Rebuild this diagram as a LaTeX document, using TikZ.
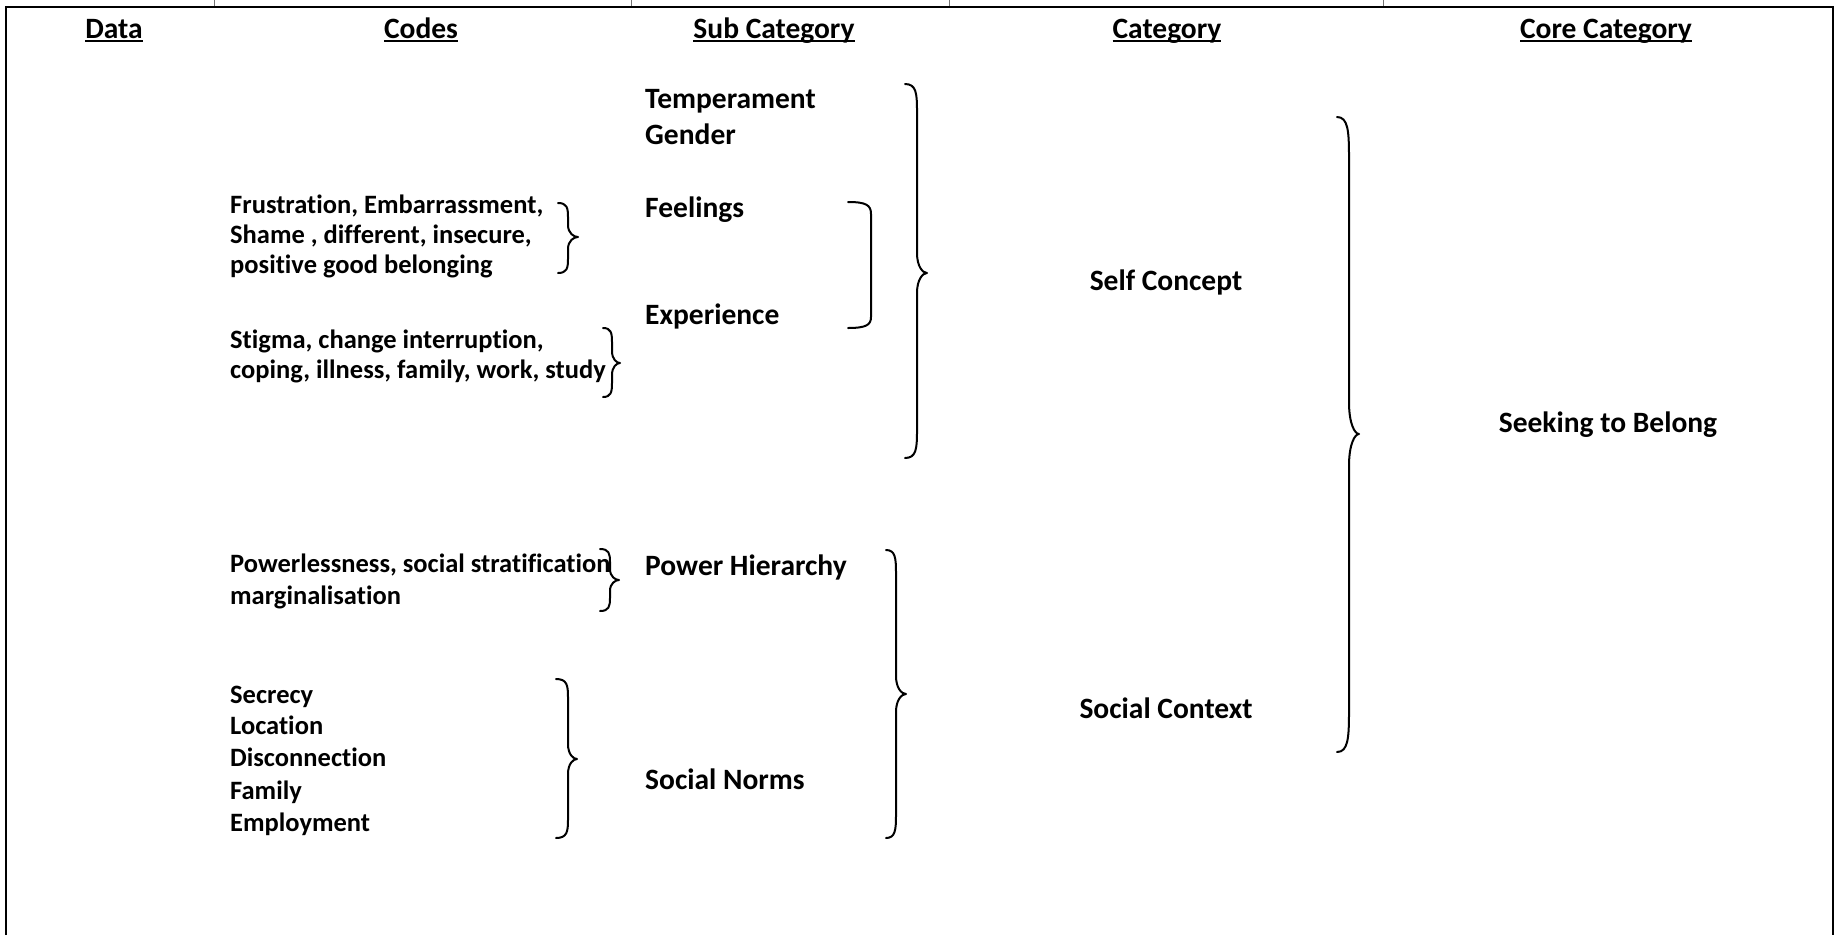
\documentclass[tikz,border=0pt]{standalone}
\usepackage{fontspec}
\setmainfont{Carlito}[Ligatures=NoCommon]
% underlined heading text, rule crossing the descenders like a word processor underline
\newcommand\hdul[1]{\setbox0\hbox{#1}\rlap{\rule[-0.14em]{\wd0}{0.075em}}\box0}
\begin{document}
\begin{tikzpicture}[x=1pt,y=-1pt,
  hdr/.style={font=\bfseries\fontsize{29.5}{35}\selectfont, anchor=base, inner sep=0pt},
  sub/.style={font=\bfseries\fontsize{29.5}{35}\selectfont, anchor=base west, inner sep=0pt},
  cat/.style={font=\bfseries\fontsize{29.5}{35}\selectfont, anchor=base, inner sep=0pt},
  code/.style={font=\bfseries\fontsize{26.5}{32}\selectfont, anchor=base west, inner sep=0pt},
  frame/.style={line width=2pt, black},
  tick/.style={line width=1pt, black!55},
  brc/.style={line width=2pt, black, line cap=round, line join=round}]

\useasboundingbox (0,0) rectangle (1840,935);

% outer frame, open at the bottom
\coordinate (fbl) at (6,935);
\coordinate (ftl) at (6,7);
\coordinate (ftr) at (1833,7);
\coordinate (fbr) at (1833,935);
\draw[frame] (fbl) -- (ftl) -- (ftr) -- (fbr);
% column ticks above the frame
\foreach \x in {214,631,949,1383} \draw[tick] (\x,0) -- (\x,6);

% column headings
\node[hdr] (hData) at (114,38) {\hdul{Data}};
\node[hdr] (hCodes) at (421,38) {\hdul{Codes}};
\node[hdr] (hSub) at (774,38) {\hdul{Sub Category}};
\node[hdr] (hCat) at (1167,38) {\hdul{Category}};
\node[hdr] (hCore) at (1606,38) {\hdul{Core Category}};

% codes
\node[code] (c1a) at (230,213) {Frustration, Embarrassment,};
\node[code] (c1b) at (230,243) {Shame , different, insecure,};
\node[code] (c1c) at (230,273) {positive good belonging};
\node[code] (c2a) at (230,348) {Stigma, change interruption,};
\node[code] (c2b) at (230,378) {coping, illness, family, work, study};
\node[code] (c3a) at (230,572) {Powerlessness, social stratification};
\node[code] (c3b) at (230,604) {marginalisation};
\node[code] (c4a) at (230,703) {Secrecy};
\node[code] (c4b) at (230,734) {Location};
\node[code] (c4c) at (230,766) {Disconnection};
\node[code] (c4d) at (230,799) {Family};
\node[code] (c4e) at (230,831) {Employment};

% sub categories
\node[sub] (sTemp) at (645,108) {Temperament};
\node[sub] (sGend) at (645,144) {Gender};
\node[sub] (sFeel) at (645,217) {Feelings};
\node[sub] (sExp) at (645,324) {Experience};
\node[sub] (sPow) at (645,575) {Power Hierarchy};
\node[sub] (sNorm) at (645,789) {Social Norms};

% categories and core category
\node[cat] (kSelf) at (1166,290) {Self Concept};
\node[cat] (kSoc) at (1166,718) {Social Context};
\node[cat] (kCore) at (1608,432) {Seeking to Belong};

% right curly brace: ends x, spine x, tip x, top y, tip y, bottom y, curl height, tip curl height
\newcommand\rbrc[8]{%
  \draw[brc] (#1,#4) .. controls (#2-1,#4) and (#2,#4+0.35*#7) .. (#2,#4+#7)
    -- (#2,#5-#8) .. controls (#2,#5-0.3*#8) and (#3-0.4*#3+0.4*#2,#5) .. (#3,#5)
    .. controls (#3-0.4*#3+0.4*#2,#5) and (#2,#5+0.3*#8) .. (#2,#5+#8)
    -- (#2,#6-#7) .. controls (#2,#6-0.35*#7) and (#2-1,#6) .. (#1,#6);}

% braces grouping the codes
\rbrc{558}{568}{578}{203}{237}{273}{14}{12}
\rbrc{603}{612}{620}{328}{363}{397}{14}{12}
\rbrc{600}{610}{619}{549}{580}{611}{13}{11}
\rbrc{556}{568}{577}{679}{759}{838}{18}{15}

% bracket joining Feelings and Experience
\draw[brc] (848,202) .. controls (866,202) and (871,205) .. (871,214)
  -- (871,317) .. controls (871,325) and (866,328) .. (848,328);

% braces grouping the sub categories
\rbrc{905}{917}{927}{84}{273}{458}{26}{20}
\rbrc{886}{896}{906}{550}{694}{838}{22}{18}

% brace joining the categories
\rbrc{1337}{1349}{1359}{117}{434}{752}{40}{32}

\end{tikzpicture}
\end{document}
